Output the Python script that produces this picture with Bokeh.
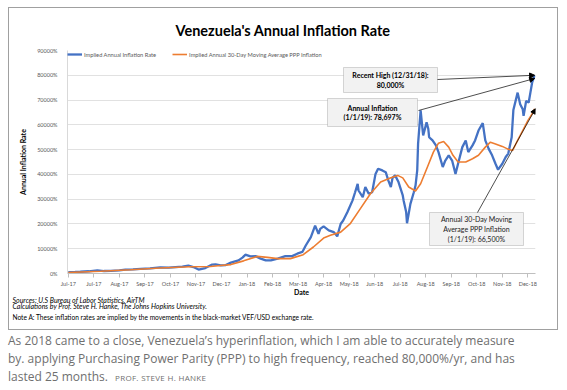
from bokeh.plotting import figure
from bokeh.models import (FixedTicker, Label, BoxAnnotation, Arrow, NormalHead,
                          Legend, LegendItem, Range1d, Title, Div)
from bokeh.layouts import column
from bokeh.embed import file_html
from bokeh.resources import INLINE

# ---------------- data (days since 2017-07-01) ----------------
blue_days = [0, 8, 14, 24, 34, 42, 50, 60, 67, 76, 85, 96, 108, 118, 126, 134, 141, 147,
             153, 161, 169, 173, 179, 185, 191, 200, 205, 208, 214, 220, 226, 232, 238,
             246, 255, 263, 269, 275, 279, 285, 290, 294, 296, 300, 306, 312, 316, 320,
             323, 328, 334, 337, 340, 341, 346, 349, 353, 357, 361, 364, 369, 373, 376,
             379, 381, 384, 388, 393, 394, 397, 398, 402, 406, 408, 410, 411, 414, 416,
             417, 421, 423, 424, 428, 432, 435, 440, 443, 447, 451, 455, 458, 463, 467,
             470, 475, 478, 482, 487, 490, 494, 498, 502, 505, 510, 514, 517, 521, 523,
             528, 531, 534, 535, 538, 541, 543, 545, 548]
blue_vals = [500, 600, 700, 900, 1300, 1000, 1100, 1300, 1600, 1700, 1900, 2100, 2500,
             2400, 2600, 2800, 3200, 2600, 1600, 2200, 3600, 3700, 3300, 3400, 4400, 5300,
             6500, 7600, 6900, 7000, 6000, 5300, 5300, 6000, 7000, 7000, 8000, 8700, 11300,
             14700, 19300, 16000, 18000, 19000, 17400, 16700, 15000, 20000, 21400, 24800,
             29500, 32800, 36200, 33500, 30800, 34900, 32200, 32800, 40200, 42300, 41600,
             40900, 37600, 34900, 38600, 39600, 36900, 31500, 29500, 24800, 20300, 28100,
             32800, 35500, 41600, 52300, 65800, 59000, 55700, 61000, 58400, 55000, 53700,
             51700, 49000, 43000, 45600, 47700, 45600, 40200, 44300, 51000, 53700, 49000,
             51700, 53700, 57700, 60700, 53700, 50300, 47700, 44300, 41900, 44300, 47000,
             48400, 55000, 66000, 73000, 68300, 66300, 63600, 69600, 69000, 73000, 77000,
             80000]

orange_days = [0, 38, 73, 108, 143, 167, 179, 191, 206, 222, 234, 246, 261, 276, 288, 300,
               308, 320, 331, 343, 355, 367, 379, 387, 393, 400, 408, 414, 422, 429, 435,
               441, 447, 452, 458, 467, 475, 482, 490, 496, 502, 510, 516, 522, 528, 534,
               540, 545, 548]
orange_vals = [400, 900, 1500, 2200, 2700, 2800, 3200, 3600, 5100, 6900, 6500, 6000, 6000,
               7600, 10700, 14300, 15400, 16700, 20000, 26100, 32200, 36900, 38600, 39600,
               38600, 34900, 33300, 36200, 43000, 49000, 52600, 53300, 51000, 47700, 45000,
               45000, 46300, 47700, 51000, 53000, 52300, 51300, 50300, 49600, 53700, 57700,
               61700, 64400, 66500]

x_tick_days = [0, 30, 60, 90, 120, 150, 180, 210, 240, 270, 300, 330, 360, 390, 420, 450,
               480, 510, 540]
x_tick_labels = ["Jul-17", "Jul-17", "Aug-17", "Sep-17", "Oct-17", "Nov-17", "Dec-17",
                 "Jan-18", "Feb-18", "Mar-18", "Apr-18", "May-18", "Jun-18", "Jul-18",
                 "Aug-18", "Sep-18", "Oct-18", "Nov-18", "Dec-18"]
y_ticks = [0, 10000, 20000, 30000, 40000, 50000, 60000, 70000, 80000, 90000]
y_tick_labels = ["0%", "10000%", "20000%", "30000%", "40000%", "50000%", "60000%",
                 "70000%", "80000%", "90000%"]

BLUE = "#4472C4"
ORANGE = "#ED7D31"
FONT = "Lato"

# page-pixel helpers for in-frame annotation placement (frame: x 67..535, y 50..273)
X0, X1 = -1, 549
def X(px):
    return X0 + (px - 67) * (X1 - X0) / 468.0
def Y(py):
    return (273 - py) * 90000 / 223.0

p = figure(width=550, height=323, output_backend="svg", toolbar_location=None,
           x_range=Range1d(X0, X1), y_range=Range1d(0, 90000),
           min_border_left=58, min_border_right=24, min_border_top=42,
           min_border_bottom=58, background_fill_color="white",
           border_fill_color="white", outline_line_color=None,
           styles={"border": "1px solid #a0a0a0"}, margin=(7, 0, 0, 8))

p.title.text = "Venezuela's Annual Inflation Rate"
p.title.text_font = FONT
p.title.text_font_size = "14.5px"
p.title.text_font_style = "bold"
p.title.text_color = "#000000"
p.title.align = "left"
p.title.offset = 108
p.title.vertical_align = "middle"
p.title.standoff = 22

r_blue = p.line(blue_days, blue_vals, line_color=BLUE, line_width=2.3)
r_orange = p.line(orange_days, orange_vals, line_color=ORANGE, line_width=1.6)

xa = p.xaxis[0]
xa.ticker = FixedTicker(ticks=x_tick_days)
xa.major_label_overrides = dict(zip(x_tick_days, x_tick_labels))
xa.major_label_text_font = FONT
xa.major_label_text_font_size = "5.5px"
xa.major_label_text_color = "#595959"
xa.major_label_standoff = 3
xa.major_tick_out = 4
xa.major_tick_in = 0
xa.minor_tick_line_color = None
xa.axis_line_color = "#bfbfbf"
xa.major_tick_line_color = "#bfbfbf"
xa.axis_label = "Date"
xa.axis_label_text_font = FONT
xa.axis_label_text_font_size = "7px"
xa.axis_label_text_font_style = "bold"
xa.axis_label_text_color = "#000000"
xa.axis_label_standoff = -2

ya = p.yaxis[0]
ya.ticker = FixedTicker(ticks=y_ticks)
ya.major_label_overrides = dict(zip(y_ticks, y_tick_labels))
ya.major_label_text_font = FONT
ya.major_label_text_font_size = "5.5px"
ya.major_label_text_color = "#595959"
ya.major_label_standoff = 4
ya.major_tick_line_color = None
ya.minor_tick_line_color = None
ya.axis_line_color = "#d9d9d9"
ya.axis_label = "Annual Inflation Rate"
ya.axis_label_text_font = FONT
ya.axis_label_text_font_size = "7px"
ya.axis_label_text_font_style = "bold"
ya.axis_label_text_color = "#000000"
ya.axis_label_standoff = 7

p.xgrid.visible = False
p.ygrid.ticker = FixedTicker(ticks=y_ticks)
p.ygrid.grid_line_color = "#d9d9d9"
p.ygrid.grid_line_width = 0.8

legend = Legend(items=[LegendItem(label="Implied Annual Inflation Rate", renderers=[r_blue]),
                       LegendItem(label="Implied Annual 30-Day Moving Average PPP Inflation",
                                  renderers=[r_orange])],
                location="top_left", orientation="horizontal", margin=0, padding=6,
                spacing=16, glyph_width=15, glyph_height=8, label_height=8,
                label_standoff=2, label_text_font=FONT, label_text_font_size="5.7px",
                label_text_color="#595959", border_line_color=None,
                background_fill_alpha=0)
p.add_layout(legend)

# source notes below the chart
notes = [("Sources: U.S Bureau of Labor Statistics, AirTM", "italic", "7px", -11),
         ("Calculations by Prof. Steve H. Hanke, The Johns Hopkins University.", "italic",
          "7px", 3),
         ("Note A: These inflation rates are implied by the movements in the black-market "
          "VEF/USD exchange rate.", "normal", "6.6px", -1)]
for txt, sty, size, so in notes:
    p.add_layout(Title(text=txt, align="left", offset=-55, standoff=so, text_font=FONT,
                       text_font_size=size, text_font_style=sty,
                       text_color="#000000"), "below")

# callout boxes
box_style = dict(fill_color="#f2f2f2", fill_alpha=1, line_color="#7f7f7f", line_width=1)
p.add_layout(BoxAnnotation(left=X(343), right=X(437), top=Y(67), bottom=Y(92), **box_style))
p.add_layout(BoxAnnotation(left=X(327), right=X(417), top=Y(98), bottom=Y(126), **box_style))
p.add_layout(BoxAnnotation(left=X(429), right=X(523), top=Y(212), bottom=Y(245), **box_style))

head = dict(size=5, fill_color="black", line_color="black")
p.add_layout(Arrow(x_start=X(437), y_start=Y(79), x_end=548, y_end=80000,
                   end=NormalHead(**head), line_color="black", line_width=0.7))
p.add_layout(Arrow(x_start=X(418), y_start=Y(110), x_end=548, y_end=78697,
                   end=NormalHead(**head), line_color="black", line_width=0.7))
p.add_layout(Arrow(x_start=X(477), y_start=Y(212), x_end=549, y_end=66500,
                   end=NormalHead(**head), line_color="black", line_width=0.7))

def lab(px, py, text, size, style="normal", color="#000000"):
    p.add_layout(Label(x=X(px), y=Y(py), text=text, text_font=FONT,
                       text_font_size=size, text_font_style=style,
                       text_align="center", text_baseline="middle",
                       text_color=color))

lab(390, 79.5, "Recent High (12/31/18):\n80,000%", "7px", "bold")
lab(372, 112, "Annual Inflation\n(1/1/19): 78,697%", "7px", "bold")
lab(476, 228.5, "Annual 30-Day Moving\nAverage PPP Inflation\n(1/1/19): 66,500%", "7px",
    color="#222222")

para_html = ("As 2018 came to a close, Venezuela\u2019s hyperinflation, which I am able to "
             "accurately measure<br>by. applying Purchasing Power Parity (PPP) to high "
             "frequency, reached 80,000%/yr, and has<br>lasted 25 months. "
             "<span style='font-size:8px;letter-spacing:0.3px;margin-left:4px'>"
             "PROF. STEVE H. HANKE</span>")
div = Div(text=para_html, width=551, height=54, margin=(2, 0, 0, 8),
          styles={"font-family": "Open Sans", "font-size": "12px", "line-height": "18px",
                  "color": "#6f6f6f", "white-space": "nowrap"})

layout = column(p, div, spacing=0)
open("out.html", "w").write(file_html(layout, INLINE))
